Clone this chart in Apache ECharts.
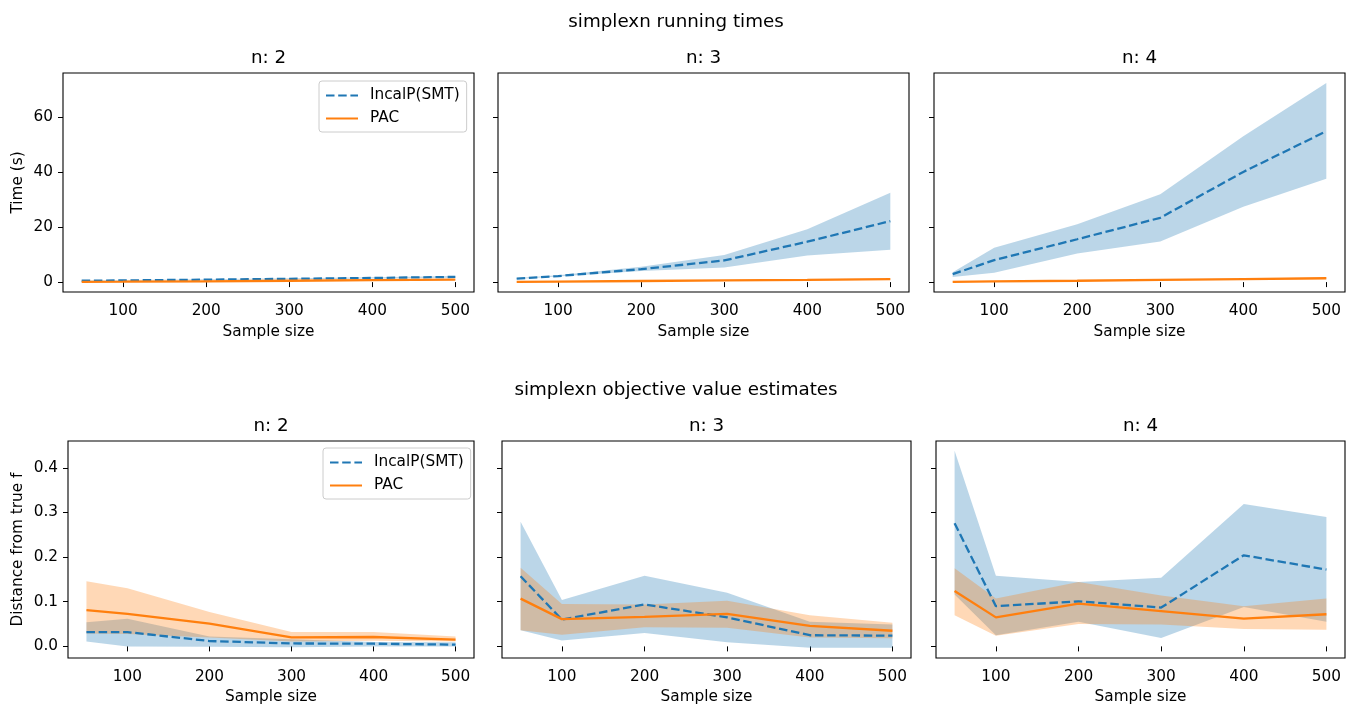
<!DOCTYPE html>
<html>
<head>
<meta charset="utf-8">
<script src="https://cdn.jsdelivr.net/npm/echarts@6/dist/echarts.min.js"></script>
<style>
html,body{margin:0;padding:0;background:#fff;}
#chart{width:1351px;height:706px;}
</style>
</head>
<body>
<div id="chart"></div>
<script>
// ---------------- DATA ----------------
const sampleSizes = [50, 100, 200, 300, 400, 500];
const xTicks = [100, 200, 300, 400, 500];
const timeTicks = [0, 20, 40, 60];
const distTicks = [0, 0.1, 0.2, 0.3, 0.4];
const panelTitles = ['n: 2', 'n: 3', 'n: 4'];
const seriesNames = ['IncalP(SMT)', 'PAC'];
const rowTitles = ['simplexn running times', 'simplexn objective value estimates'];

// running times (s)
const time_n2_incal_mean = [0.5, 0.6, 0.9, 1.2, 1.5, 1.9];
const time_n2_incal_lo   = [0.4, 0.5, 0.75, 1.0, 1.3, 1.6];
const time_n2_incal_hi   = [0.6, 0.75, 1.05, 1.4, 1.75, 2.2];
const time_n2_pac_mean   = [0.1, 0.15, 0.3, 0.5, 0.7, 0.9];
const time_n2_pac_lo     = [0.05, 0.1, 0.25, 0.45, 0.62, 0.8];
const time_n2_pac_hi     = [0.15, 0.2, 0.35, 0.55, 0.78, 1.0];

const time_n3_incal_mean = [1.3, 2.2, 4.7, 7.9, 14.7, 22.2];
const time_n3_incal_lo   = [1.1, 2.0, 4.0, 5.3, 9.7, 11.8];
const time_n3_incal_hi   = [1.5, 2.5, 5.6, 9.9, 19.2, 32.5];
const time_n3_pac_mean   = [0.1, 0.2, 0.4, 0.6, 0.8, 1.1];
const time_n3_pac_lo     = [0.05, 0.12, 0.3, 0.45, 0.6, 0.85];
const time_n3_pac_hi     = [0.15, 0.28, 0.5, 0.75, 1.0, 1.35];

const time_n4_incal_mean = [2.9, 8.0, 15.6, 23.4, 40.1, 54.9];
const time_n4_incal_lo   = [1.9, 3.4, 10.4, 14.8, 27.4, 37.6];
const time_n4_incal_hi   = [3.6, 12.5, 21.1, 32.0, 53.1, 72.5];
const time_n4_pac_mean   = [0.1, 0.3, 0.5, 0.8, 1.1, 1.4];
const time_n4_pac_lo     = [0.05, 0.2, 0.4, 0.65, 0.9, 1.15];
const time_n4_pac_hi     = [0.15, 0.4, 0.6, 0.95, 1.3, 1.65];

// distance from true f
const dist_n2_incal_mean = [0.032, 0.032, 0.012, 0.0066, 0.006, 0.004];
const dist_n2_incal_lo   = [0.011, 0.0, -0.001, -0.002, 0.0, 0.0];
const dist_n2_incal_hi   = [0.054, 0.062, 0.022, 0.016, 0.010, 0.009];
const dist_n2_pac_mean   = [0.081, 0.073, 0.051, 0.020, 0.021, 0.015];
const dist_n2_pac_lo     = [0.029, 0.028, 0.020, 0.011, 0.0125, 0.011];
const dist_n2_pac_hi     = [0.146, 0.130, 0.077, 0.032, 0.032, 0.022];

const dist_n3_incal_mean = [0.157, 0.060, 0.094, 0.065, 0.025, 0.024];
const dist_n3_incal_lo   = [0.036, 0.013, 0.030, 0.009, -0.003, -0.003];
const dist_n3_incal_hi   = [0.279, 0.104, 0.158, 0.120, 0.055, 0.049];
const dist_n3_pac_mean   = [0.107, 0.061, 0.066, 0.073, 0.046, 0.035];
const dist_n3_pac_lo     = [0.036, 0.026, 0.043, 0.042, 0.020, 0.018];
const dist_n3_pac_hi     = [0.176, 0.095, 0.094, 0.102, 0.070, 0.053];

const dist_n4_incal_mean = [0.276, 0.090, 0.101, 0.087, 0.204, 0.172];
const dist_n4_incal_lo   = [0.116, 0.025, 0.055, 0.019, 0.088, 0.055];
const dist_n4_incal_hi   = [0.438, 0.158, 0.144, 0.154, 0.319, 0.290];
const dist_n4_pac_mean   = [0.124, 0.065, 0.096, 0.079, 0.062, 0.072];
const dist_n4_pac_lo     = [0.070, 0.024, 0.050, 0.049, 0.039, 0.037];
const dist_n4_pac_hi     = [0.175, 0.107, 0.144, 0.114, 0.090, 0.107];

// ---------------- LAYOUT / STYLE ----------------
const FONT = 'DejaVu Sans';
const FS = 15.3;        // tick / label / legend font size
const TFS = 18.3;       // title font size
const BLUE = '#1f77b4';
const ORANGE = '#ff7f0e';
const BLUE_FILL = 'rgba(31,119,180,0.3)';
const ORANGE_FILL = 'rgba(255,127,14,0.3)';

const panels = [
  {grid:{left:63, top:73, width:411, height:219}, row:0, col:0, d:[time_n2_incal_mean,time_n2_incal_lo,time_n2_incal_hi,time_n2_pac_mean,time_n2_pac_lo,time_n2_pac_hi]},
  {grid:{left:498, top:73, width:411, height:219}, row:0, col:1, d:[time_n3_incal_mean,time_n3_incal_lo,time_n3_incal_hi,time_n3_pac_mean,time_n3_pac_lo,time_n3_pac_hi]},
  {grid:{left:934, top:73, width:411, height:219}, row:0, col:2, d:[time_n4_incal_mean,time_n4_incal_lo,time_n4_incal_hi,time_n4_pac_mean,time_n4_pac_lo,time_n4_pac_hi]},
  {grid:{left:68, top:441, width:406, height:219}, row:1, col:0, d:[dist_n2_incal_mean,dist_n2_incal_lo,dist_n2_incal_hi,dist_n2_pac_mean,dist_n2_pac_lo,dist_n2_pac_hi]},
  {grid:{left:502, top:441, width:409, height:219}, row:1, col:1, d:[dist_n3_incal_mean,dist_n3_incal_lo,dist_n3_incal_hi,dist_n3_pac_mean,dist_n3_pac_lo,dist_n3_pac_hi]},
  {grid:{left:936, top:441, width:409, height:219}, row:1, col:2, d:[dist_n4_incal_mean,dist_n4_incal_lo,dist_n4_incal_hi,dist_n4_pac_mean,dist_n4_pac_lo,dist_n4_pac_hi]}
];

const textStyle = {color:'#000', fontFamily:FONT, fontSize:FS};

const grids = [], xAxes = [], yAxes = [], series = [], graphics = [];

function bandSeries(i, lo, hi, fill) {
  const data = sampleSizes.map((x, k) => [x, lo[k], hi[k]]);
  return {
    type:'custom', xAxisIndex:i, yAxisIndex:i, silent:true, z:1,
    encode:{x:0, y:[1,2]},
    data: data,
    renderItem: function (params, api) {
      if (params.dataIndex !== 0) return null;
      const upper = data.map(p => api.coord([p[0], p[2]]));
      const lower = data.map(p => api.coord([p[0], p[1]])).reverse();
      return {type:'polygon', shape:{points: upper.concat(lower)}, style:{fill: fill}};
    }
  };
}

panels.forEach((p, i) => {
  grids.push(Object.assign({show:true, borderColor:'#000', borderWidth:1.1, backgroundColor:'transparent'}, p.grid));
  xAxes.push({
    type:'value', gridIndex:i, min:27.5, max:522.5,
    axisLine:{show:false},
    axisTick:{show:true, customValues:xTicks, length:5, lineStyle:{color:'#000', width:1}},
    axisLabel:{customValues:xTicks, margin:12, color:'#000', fontFamily:FONT, fontSize:FS},
    splitLine:{show:false},
    name:'Sample size', nameLocation:'middle', nameGap: p.row === 0 ? 33 : 32,
    nameTextStyle:textStyle
  });
  const isTime = p.row === 0;
  const ticks = isTime ? timeTicks : distTicks;
  yAxes.push({
    type:'value', gridIndex:i,
    min: isTime ? -3.6 : -0.026,
    max: isTime ? 76.1 : 0.46,
    axisLine:{show:false},
    axisTick:{show:true, customValues:ticks, length:5, lineStyle:{color:'#000', width:1}},
    axisLabel:{show: p.col === 0, customValues:ticks, margin:10, color:'#000', fontFamily:FONT, fontSize:FS,
      formatter: v => isTime ? String(v) : v.toFixed(1)},
    splitLine:{show:false},
    name: p.col === 0 ? (isTime ? 'Time (s)' : 'Distance from true f') : '',
    nameLocation:'middle', nameGap: isTime ? 37 : 42,
    nameTextStyle:textStyle
  });
  const [im, il, ih, pm, pl, ph] = p.d;
  series.push(bandSeries(i, il, ih, BLUE_FILL));
  series.push({
    type:'line', name:seriesNames[0], xAxisIndex:i, yAxisIndex:i, z:3,
    data: sampleSizes.map((x, k) => [x, im[k]]),
    symbol:'none', silent:true,
    lineStyle:{color:BLUE, width:2.3, type:[8.5, 3.7], cap:'butt'},
    itemStyle:{color:BLUE}
  });
  series.push(bandSeries(i, pl, ph, ORANGE_FILL));
  series.push({
    type:'line', name:seriesNames[1], xAxisIndex:i, yAxisIndex:i, z:3,
    data: sampleSizes.map((x, k) => [x, pm[k]]),
    symbol:'none', silent:true,
    lineStyle:{color:ORANGE, width:2.3, type:'solid'},
    itemStyle:{color:ORANGE}
  });
  graphics.push({
    type:'text', x: p.grid.left + p.grid.width / 2, y: p.grid.top - 15,
    style:{text: panelTitles[p.col], fill:'#000', font: TFS + 'px "DejaVu Sans"', textAlign:'center', textVerticalAlign:'middle'}
  });
});

graphics.push({type:'text', x:676, y:22, style:{text:rowTitles[0], fill:'#000', font: TFS + 'px "DejaVu Sans"', textAlign:'center', textVerticalAlign:'middle'}});
graphics.push({type:'text', x:676, y:390, style:{text:rowTitles[1], fill:'#000', font: TFS + 'px "DejaVu Sans"', textAlign:'center', textVerticalAlign:'middle'}});

function legendAt(left, top) {
  return {
    orient:'vertical', left:left, top:top,
    data: seriesNames,
    itemWidth:32, itemHeight:15, itemGap:8,
    padding:[7, 7, 6, 6],
    borderColor:'#cccccc', borderWidth:1, borderRadius:3,
    backgroundColor:'rgba(255,255,255,0.8)',
    itemStyle:{color:'rgba(0,0,0,0)', borderWidth:0, opacity:0},
    textStyle:{color:'#000', fontFamily:FONT, fontSize:FS, padding:[0,0,0,7]},
    selectedMode:false
  };
}

const option = {
  animation:false,
  backgroundColor:'#fff',
  textStyle:{fontFamily:FONT},
  grid: grids,
  xAxis: xAxes,
  yAxis: yAxes,
  series: series,
  legend: [legendAt(319, 81), legendAt(323, 448)],
  graphic: graphics
};

const chart = echarts.init(document.getElementById('chart'), null, {renderer:'canvas'});
chart.setOption(option);
</script>
</body>
</html>
